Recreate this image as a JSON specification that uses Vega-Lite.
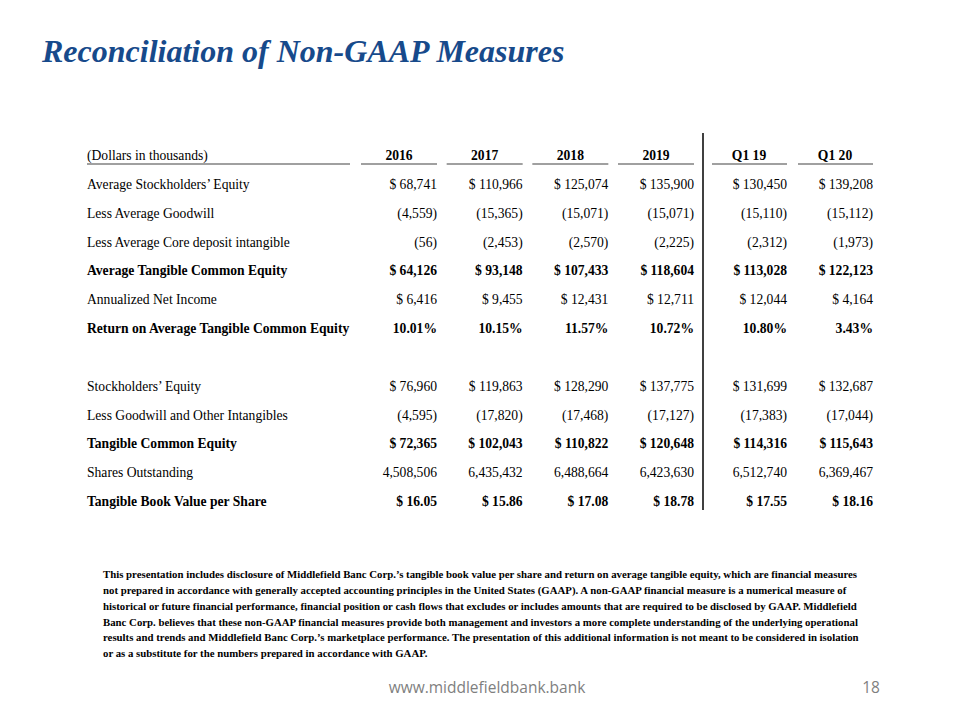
{
  "$schema": "https://vega.github.io/schema/vega-lite/v6.json",
  "width": 960,
  "height": 650,
  "autosize": {"type": "none"},
  "padding": {"top": 70, "left": 0, "right": 0, "bottom": 0},
  "background": "white",
  "config": {"view": {"stroke": null}, "text": {"font": "Liberation Serif"}},
  "title": {"text": "Reconciliation of Non-GAAP Measures", "anchor": "start", "frame": "group", "dx": 42, "dy": 34, "offset": 10, "baseline": "alphabetic", "font": "Liberation Serif", "fontSize": 32, "fontStyle": "italic", "fontWeight": "bold", "color": "#174a8b"},
  "datasets": {
    "table": [
      {"line": 0, "item": "(Dollars in thousands)", "kind": "header"},
      {"line": 1, "item": "Average Stockholders’ Equity", "kind": "detail", "2016": "$ 68,741", "2017": "$ 110,966", "2018": "$ 125,074", "2019": "$ 135,900", "Q1 19": "$ 130,450", "Q1 20": "$ 139,208"},
      {"line": 2, "item": "Less Average Goodwill", "kind": "detail", "2016": "(4,559)", "2017": "(15,365)", "2018": "(15,071)", "2019": "(15,071)", "Q1 19": "(15,110)", "Q1 20": "(15,112)"},
      {"line": 3, "item": "Less Average Core deposit intangible", "kind": "detail", "2016": "(56)", "2017": "(2,453)", "2018": "(2,570)", "2019": "(2,225)", "Q1 19": "(2,312)", "Q1 20": "(1,973)"},
      {"line": 4, "item": "Average Tangible Common Equity", "kind": "total", "2016": "$ 64,126", "2017": "$ 93,148", "2018": "$ 107,433", "2019": "$ 118,604", "Q1 19": "$ 113,028", "Q1 20": "$ 122,123"},
      {"line": 5, "item": "Annualized Net Income", "kind": "detail", "2016": "$ 6,416", "2017": "$ 9,455", "2018": "$ 12,431", "2019": "$ 12,711", "Q1 19": "$ 12,044", "Q1 20": "$ 4,164"},
      {"line": 6, "item": "Return on Average Tangible Common Equity", "kind": "total", "2016": "10.01%", "2017": "10.15%", "2018": "11.57%", "2019": "10.72%", "Q1 19": "10.80%", "Q1 20": "3.43%"},
      {"line": 8, "item": "Stockholders’ Equity", "kind": "detail", "2016": "$ 76,960", "2017": "$ 119,863", "2018": "$ 128,290", "2019": "$ 137,775", "Q1 19": "$ 131,699", "Q1 20": "$ 132,687"},
      {"line": 9, "item": "Less Goodwill and Other Intangibles", "kind": "detail", "2016": "(4,595)", "2017": "(17,820)", "2018": "(17,468)", "2019": "(17,127)", "Q1 19": "(17,383)", "Q1 20": "(17,044)"},
      {"line": 10, "item": "Tangible Common Equity", "kind": "total", "2016": "$ 72,365", "2017": "$ 102,043", "2018": "$ 110,822", "2019": "$ 120,648", "Q1 19": "$ 114,316", "Q1 20": "$ 115,643"},
      {"line": 11, "item": "Shares Outstanding", "kind": "detail", "2016": "4,508,506", "2017": "6,435,432", "2018": "6,488,664", "2019": "6,423,630", "Q1 19": "6,512,740", "Q1 20": "6,369,467"},
      {"line": 12, "item": "Tangible Book Value per Share", "kind": "total", "2016": "$ 16.05", "2017": "$ 15.86", "2018": "$ 17.08", "2019": "$ 18.78", "Q1 19": "$ 17.55", "Q1 20": "$ 18.16"}
    ],
    "notes": [
      {"line": 1, "text": "This presentation includes disclosure of Middlefield Banc Corp.’s tangible book value per share and return on average tangible equity, which are financial measures"},
      {"line": 2, "text": "not prepared in accordance with generally accepted accounting principles in the United States (GAAP). A non-GAAP financial measure is a numerical measure of"},
      {"line": 3, "text": "historical or future financial performance, financial position or cash flows that excludes or includes amounts that are required to be disclosed by GAAP. Middlefield"},
      {"line": 4, "text": "Banc Corp. believes that these non-GAAP financial measures provide both management and investors a more complete understanding of the underlying operational"},
      {"line": 5, "text": "results and trends and Middlefield Banc Corp.’s marketplace performance. The presentation of this additional information is not meant to be considered in isolation"},
      {"line": 6, "text": "or as a substitute for the numbers prepared in accordance with GAAP."}
    ],
    "footer": [
      {"part": "site", "text": "www.middlefieldbank.bank"},
      {"part": "page", "text": "18"}
    ]
  },
  "layer": [
    {
      "layer": [
        {
          "data": {"name": "table"},
          "encoding": {
            "x": {"datum": "label", "type": "nominal", "scale": {"type": "point", "domain": ["label", "end"], "range": [87, 350], "padding": 0}, "axis": null},
            "y": {"field": "line", "type": "ordinal", "scale": {"type": "point", "domain": [0,1,2,3,4,5,6,7,8,9,10,11,12], "range": [86, 432], "padding": 0}, "axis": null}
          },
          "layer": [
            {"transform": [{"filter": "datum.kind != 'total'"}], "mark": {"type": "text", "align": "left", "baseline": "middle", "font": "Liberation Serif", "fontSize": 13.6, "color": "#000000"}, "encoding": {"text": {"field": "item"}}},
            {"transform": [{"filter": "datum.kind == 'total'"}], "mark": {"type": "text", "align": "left", "baseline": "middle", "font": "Liberation Serif", "fontSize": 13.6, "fontWeight": "bold", "color": "#000000"}, "encoding": {"text": {"field": "item"}}},
            {"transform": [{"filter": "datum.kind == 'header'"}], "mark": {"type": "rule", "color": "#808080", "strokeWidth": 1.5, "yOffset": 8}, "encoding": {"x2": {"datum": "end"}}}
          ]
        },
        {
          "data": {"name": "table"},
          "transform": [{"fold": ["2016", "2017", "2018", "2019"], "as": ["col", "val"]}],
          "encoding": {
            "x": {"field": "col", "type": "nominal", "scale": {"type": "point", "domain": ["2016", "2017", "2018", "2019"], "range": [437, 694], "padding": 0}, "axis": null},
            "y": {"field": "line", "type": "ordinal", "scale": {"type": "point", "domain": [0,1,2,3,4,5,6,7,8,9,10,11,12], "range": [86, 432], "padding": 0}, "axis": null}
          },
          "layer": [
            {"transform": [{"filter": "datum.kind == 'detail'"}], "mark": {"type": "text", "align": "right", "baseline": "middle", "font": "Liberation Serif", "fontSize": 13.6, "color": "#000000"}, "encoding": {"text": {"field": "val"}}},
            {"transform": [{"filter": "datum.kind == 'total'"}], "mark": {"type": "text", "align": "right", "baseline": "middle", "font": "Liberation Serif", "fontSize": 13.6, "fontWeight": "bold", "color": "#000000"}, "encoding": {"text": {"field": "val"}}},
            {"transform": [{"filter": "datum.kind == 'header'"}], "mark": {"type": "text", "align": "center", "baseline": "middle", "dx": -38, "font": "Liberation Serif", "fontSize": 13.6, "fontWeight": "bold", "color": "#000000"}, "encoding": {"text": {"field": "col"}}},
            {"transform": [{"filter": "datum.kind == 'header'"}], "mark": {"type": "rule", "color": "#808080", "strokeWidth": 1.5, "xOffset": -76, "x2Offset": 0, "yOffset": 8}, "encoding": {"x2": {"field": "col"}}}
          ]
        },
        {
          "data": {"name": "table"},
          "transform": [{"fold": ["Q1 19", "Q1 20"], "as": ["col", "val"]}],
          "encoding": {
            "x": {"field": "col", "type": "nominal", "scale": {"type": "point", "domain": ["Q1 19", "Q1 20"], "range": [787, 873], "padding": 0}, "axis": null},
            "y": {"field": "line", "type": "ordinal", "scale": {"type": "point", "domain": [0,1,2,3,4,5,6,7,8,9,10,11,12], "range": [86, 432], "padding": 0}, "axis": null}
          },
          "layer": [
            {"transform": [{"filter": "datum.kind == 'detail'"}], "mark": {"type": "text", "align": "right", "baseline": "middle", "font": "Liberation Serif", "fontSize": 13.6, "color": "#000000"}, "encoding": {"text": {"field": "val"}}},
            {"transform": [{"filter": "datum.kind == 'total'"}], "mark": {"type": "text", "align": "right", "baseline": "middle", "font": "Liberation Serif", "fontSize": 13.6, "fontWeight": "bold", "color": "#000000"}, "encoding": {"text": {"field": "val"}}},
            {"transform": [{"filter": "datum.kind == 'header'"}], "mark": {"type": "text", "align": "center", "baseline": "middle", "dx": -38, "font": "Liberation Serif", "fontSize": 13.6, "fontWeight": "bold", "color": "#000000"}, "encoding": {"text": {"field": "col"}}},
            {"transform": [{"filter": "datum.kind == 'header'"}], "mark": {"type": "rule", "color": "#808080", "strokeWidth": 1.5, "xOffset": -75, "x2Offset": 0, "yOffset": 8}, "encoding": {"x2": {"field": "col"}}},
            {"transform": [{"filter": "datum.kind == 'header' && datum.col == 'Q1 19'"}], "mark": {"type": "rule", "color": "#000000", "strokeWidth": 1.5, "xOffset": -84, "yOffset": -23, "y2Offset": 8}, "encoding": {"y2": {"datum": 12}}}
          ]
        }
      ],
      "resolve": {"scale": {"x": "independent"}}
    },
    {
      "layer": [
        {
          "data": {"name": "notes"},
          "mark": {"type": "text", "align": "left", "baseline": "middle", "font": "Liberation Serif", "fontSize": 10.8, "fontWeight": "bold", "color": "#000000"},
          "encoding": {
            "x": {"datum": "note", "type": "nominal", "scale": {"type": "point", "domain": ["note", "site", "page"], "range": [103, 871], "padding": 0}, "axis": null},
            "y": {"field": "line", "type": "ordinal", "scale": {"type": "point", "domain": [1,2,3,4,5,6,7], "range": [505, 600], "padding": 0}, "axis": null},
            "text": {"field": "text"}
          }
        },
        {
          "data": {"name": "footer"},
          "mark": {"type": "text", "align": "center", "baseline": "middle", "font": "Open Sans", "fontSize": 15.5, "color": "#7f7f7f", "yOffset": 18},
          "encoding": {
            "x": {"field": "part", "type": "nominal", "scale": {"type": "point", "domain": ["note", "site", "page"], "range": [103, 871], "padding": 0}, "axis": null},
            "y": {"datum": 7, "type": "ordinal", "scale": {"type": "point", "domain": [1,2,3,4,5,6,7], "range": [505, 600], "padding": 0}, "axis": null},
            "text": {"field": "text"}
          }
        }
      ]
    }
  ],
  "resolve": {"scale": {"x": "independent", "y": "independent"}}
}
